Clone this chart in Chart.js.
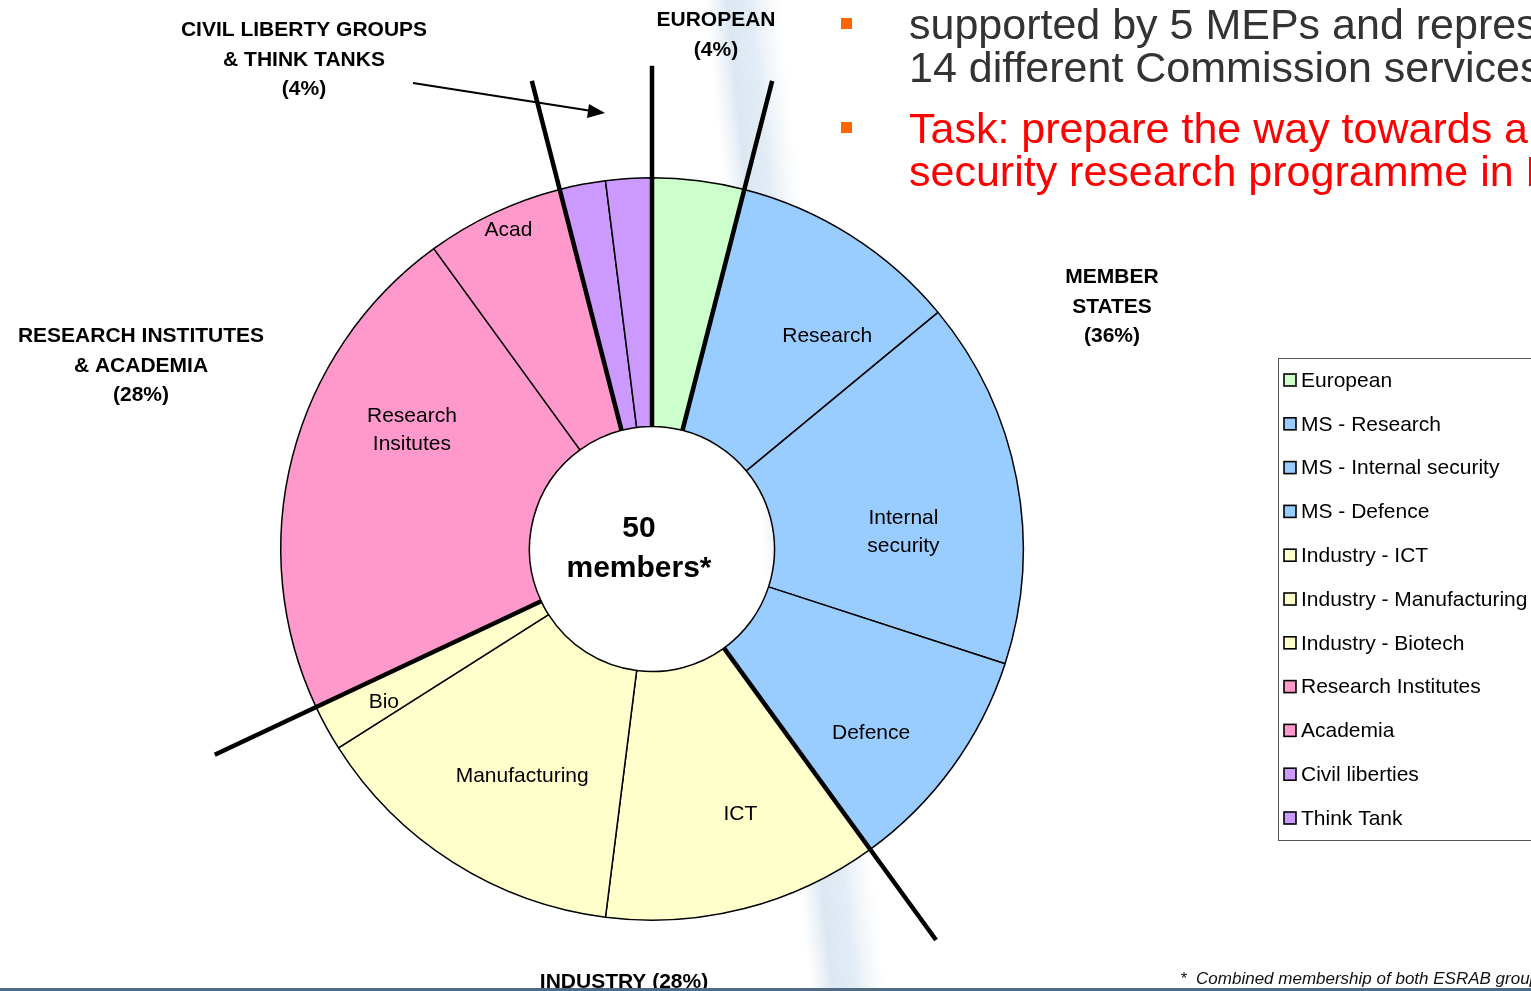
<!DOCTYPE html>
<html>
<head>
<meta charset="utf-8">
<script src="https://cdn.jsdelivr.net/npm/chart.js@4/dist/chart.umd.min.js"></script>
<style>
html, body { margin: 0; padding: 0; background: #fff; overflow: hidden; }
canvas { display: block; }
</style>
</head>
<body>
<canvas id="esrab" width="1531" height="991"></canvas>
<script>
// ESRAB membership, counted in members (50 in total)
var labels = ['European', 'MS - Research', 'MS - Internal security', 'MS - Defence',
  'Industry - ICT', 'Industry - Manufacturing', 'Industry - Biotech',
  'Research Institutes', 'Academia', 'Civil liberties', 'Think Tank'];
var members = [2, 5, 8, 5, 6, 7, 1, 11, 3, 1, 1];
var sliceText = ['', 'Research', 'Internal\nsecurity', 'Defence', 'ICT', 'Manufacturing', 'Bio',
  'Research\nInsitutes', 'Acad', '', ''];
var groupStarts = [0, 1, 4, 7, 9]; // first slice of each group
var groupText = ['EUROPEAN\n(4%)', 'MEMBER\nSTATES\n(36%)', 'INDUSTRY (28%)',
  'RESEARCH INSTITUTES\n& ACADEMIA\n(28%)', 'CIVIL LIBERTY GROUPS\n& THINK TANKS\n(4%)'];
var bullets = [
  ['supported by 5 MEPs and represe', '14 different Commission services'],
  ['Task: prepare the way towards a', 'security research programme in FP7']
];
var footnote = '*  Combined membership of both ESRAB groups';

var colors = ['#CCFFCC', '#99CCFF', '#99CCFF', '#99CCFF', '#FFFFCC', '#FFFFCC', '#FFFFCC',
  '#FF99CC', '#FF99CC', '#CC99FF', '#CC99FF'];

var FONT = '"Liberation Sans", Arial, sans-serif';

// little nudges for the slice names (degrees, radius)
var labelTweak = [null, [7, 276], [7, 252], [4, 286], [-4, 280], [-2.7, 262], [-1, 309], [12, 268], [1, 350], null, null];

function multiLine(ctx, text, x, y, lh) {
  var lines = text.split('\n');
  var y0 = y - (lines.length - 1) * lh / 2;
  lines.forEach(function(l, i) { ctx.fillText(l, x, y0 + i * lh); });
}

var decor = {
  id: 'decor',
  beforeDraw: function(chart) {
    var ctx = chart.ctx;
    ctx.save();
    // faint slide background streak, running slightly slanted
    var x0 = 742, x1 = 848, h = 991;
    var len = Math.sqrt((x1 - x0) * (x1 - x0) + h * h);
    var nx = h / len, ny = -(x1 - x0) / len;
    var mx = (x0 + x1) / 2, my = h / 2, w = 38;
    var g = ctx.createLinearGradient(mx - nx * w, my - ny * w, mx + nx * w, my + ny * w);
    g.addColorStop(0, 'rgba(220,232,243,0)');
    g.addColorStop(0.3, 'rgba(208,223,238,0.75)');
    g.addColorStop(0.6, 'rgba(214,228,241,0.7)');
    g.addColorStop(1, 'rgba(230,238,246,0)');
    ctx.fillStyle = g;
    ctx.beginPath();
    ctx.moveTo(x0 - w - 4, 0); ctx.lineTo(x0 + w + 4, 0);
    ctx.lineTo(x1 + w + 4, h); ctx.lineTo(x1 - w - 4, h);
    ctx.closePath();
    ctx.fill();
    ctx.restore();
  },
  afterDraw: function(chart) {
    var ctx = chart.ctx;
    var arcs = chart.getDatasetMeta(0).data;
    var cx = arcs[0].x, cy = arcs[0].y;
    var rIn = arcs[0].innerRadius, rOut = arcs[0].outerRadius;
    ctx.save();

    // thick group separators
    ctx.strokeStyle = '#000';
    ctx.lineWidth = 4.5;
    ctx.lineCap = 'butt';
    groupStarts.forEach(function(idx) {
      var a = arcs[idx].startAngle;
      ctx.beginPath();
      ctx.moveTo(cx + Math.cos(a) * rIn, cy + Math.sin(a) * rIn);
      ctx.lineTo(cx + Math.cos(a) * (rOut + 112), cy + Math.sin(a) * (rOut + 112));
      ctx.stroke();
    });

    // slice names
    ctx.fillStyle = '#000';
    ctx.font = '21px ' + FONT;
    ctx.textAlign = 'center';
    ctx.textBaseline = 'middle';
    arcs.forEach(function(arc, i) {
      if (!sliceText[i]) return;
      var mid = (arc.startAngle + arc.endAngle) / 2;
      var t = labelTweak[i];
      var a = mid + t[0] * Math.PI / 180;
      multiLine(ctx, sliceText[i], cx + Math.cos(a) * t[1], cy + Math.sin(a) * t[1], 28);
    });

    // centre text
    ctx.font = 'bold 30px ' + FONT;
    ctx.fillText(members.reduce(function(s, v) { return s + v; }, 0), cx - 13, cy - 20);
    ctx.fillText('members*', cx - 13, cy + 20);

    // group headings
    ctx.font = 'bold 21px ' + FONT;
    var gpos = [[716, 35], [1112, 307], [624, 982], [141, 366], [304, 60]];
    groupText.forEach(function(t, i) {
      multiLine(ctx, t, gpos[i][0], gpos[i][1], 29.5);
    });

    // arrow to the small slices
    ctx.lineWidth = 2;
    ctx.beginPath();
    ctx.moveTo(413, 83); ctx.lineTo(592, 111);
    ctx.stroke();
    ctx.beginPath();
    ctx.moveTo(605, 113); ctx.lineTo(589, 104); ctx.lineTo(587, 118);
    ctx.closePath();
    ctx.fill();

    // legend
    ctx.lineWidth = 1;
    ctx.strokeStyle = '#555';
    ctx.strokeRect(1278.5, 358.5, 300, 482);
    ctx.font = '21px ' + FONT;
    ctx.textAlign = 'left';
    labels.forEach(function(l, i) {
      var y = 380 + i * 43.8;
      ctx.fillStyle = colors[i];
      ctx.fillRect(1284, y - 6, 12, 12);
      ctx.strokeStyle = '#000';
      ctx.lineWidth = 1.6;
      ctx.strokeRect(1284, y - 6, 12, 12);
      ctx.fillStyle = '#000';
      ctx.fillText(l, 1301, y + 1);
    });

    // slide bullets
    ctx.textBaseline = 'alphabetic';
    ctx.font = '43px ' + FONT;
    var by = [[39, 82], [143, 186]];
    bullets.forEach(function(b, i) {
      ctx.fillStyle = '#FF6600';
      ctx.fillRect(841, by[i][0] - 21, 11, 11);
      ctx.fillStyle = i === 0 ? '#333333' : '#FF0000';
      ctx.fillText(b[0], 909, by[i][0]);
      ctx.fillText(b[1], 909, by[i][1]);
    });

    // footnote and slide rule
    ctx.fillStyle = '#111';
    ctx.font = 'italic 17px ' + FONT;
    ctx.fillText(footnote, 1180, 984);
    ctx.fillStyle = '#4f6b85';
    ctx.fillRect(0, 988, 1531, 3);
    ctx.restore();
  }
};

new Chart(document.getElementById('esrab'), {
  type: 'doughnut',
  data: {
    labels: labels,
    datasets: [{
      data: members,
      backgroundColor: colors,
      borderColor: '#000',
      borderWidth: 1.5,
      borderAlign: 'center'
    }]
  },
  options: {
    responsive: false,
    animation: false,
    cutout: '33%',
    layout: { padding: { left: 280, right: 507, top: 177, bottom: 70 } },
    plugins: {
      legend: { display: false },
      tooltip: { enabled: false }
    }
  },
  plugins: [decor]
});
</script>
</body>
</html>
